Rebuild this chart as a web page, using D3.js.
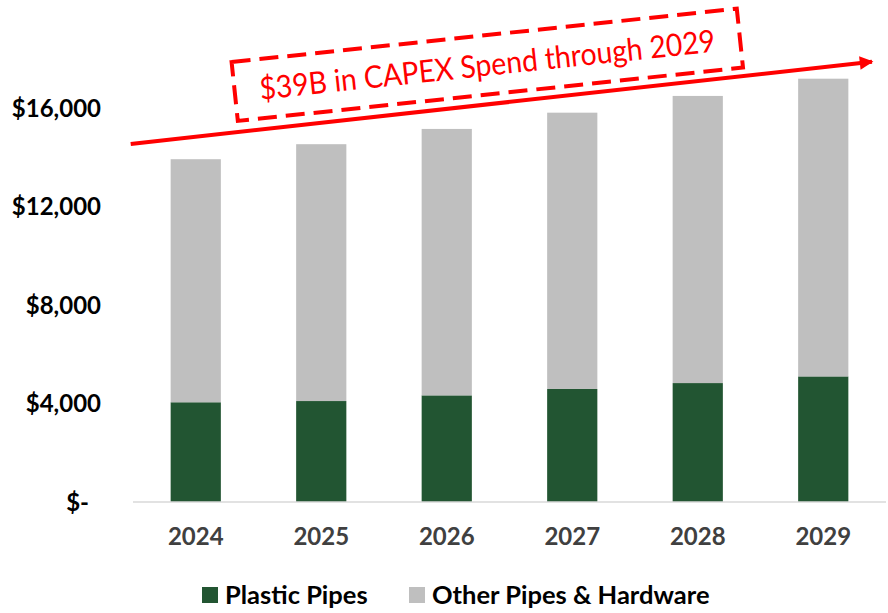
<!DOCTYPE html>
<html>
<head>
<meta charset="utf-8">
<script src="https://cdn.jsdelivr.net/npm/d3@7"></script>
<style>
  html, body { margin: 0; padding: 0; background: #fff; }
  svg { display: block; font-family: Lato, "Open Sans", sans-serif; }
</style>
</head>
<body>
<svg id="chart" width="888" height="613"></svg>
<script>
// Forecast CAPEX by year, USD millions
const years = ["2024", "2025", "2026", "2027", "2028", "2029"];
const plasticPipes = [4050, 4100, 4330, 4590, 4830, 5100];
const otherPipesHardware = [9870, 10430, 10820, 11220, 11660, 12090];
const yTicks = [0, 4000, 8000, 12000, 16000];
const seriesNames = ["Plastic Pipes", "Other Pipes & Hardware"];
const seriesColors = ["#225532", "#bfbfbf"];
const calloutText = "$39B in CAPEX Spend through 2029";
// trend arrow drawn from the left plot edge to near the right edge, in value terms
const trendStartValue = 14540;
const trendEndValue = 17880;

const svg = d3.select("#chart");

const x = d3.scaleBand()
  .domain(years)
  .range([133, 886])
  .paddingInner(0.6)
  .paddingOuter(0.3);

const y = d3.scaleLinear()
  .domain([0, 20000])
  .range([502, 9.5]);

const rows = years.map((yr, i) => ({
  year: yr,
  "Plastic Pipes": plasticPipes[i],
  "Other Pipes & Hardware": otherPipesHardware[i]
}));

const stacked = d3.stack().keys(seriesNames)(rows);

// stacked bars
svg.append("g")
  .selectAll("g")
  .data(stacked)
  .join("g")
  .attr("fill", (d, i) => seriesColors[i])
  .selectAll("rect")
  .data(d => d)
  .join("rect")
  .attr("x", d => x(d.data.year))
  .attr("width", x.bandwidth())
  .attr("y", d => y(d[1]))
  .attr("height", d => y(d[0]) - y(d[1]));

// category axis baseline
svg.append("line")
  .attr("x1", x.range()[0])
  .attr("x2", x.range()[1])
  .attr("y1", y(0))
  .attr("y2", y(0))
  .attr("stroke", "#d9d9d9")
  .attr("stroke-width", 1.5);

// y axis labels (accounting style)
const fmt = d3.format(",");
svg.append("g")
  .selectAll("text")
  .data(yTicks)
  .join("text")
  .attr("x", d => d === 0 ? 89 : 101)
  .attr("y", d => y(d))
  .attr("dy", "0.36em")
  .attr("text-anchor", "end")
  .attr("font-size", 24)
  .attr("font-weight", 700)
  .attr("fill", "#000")
  .text(d => d === 0 ? "$-" : "$" + fmt(d));

// x axis labels
svg.append("g")
  .selectAll("text")
  .data(years)
  .join("text")
  .attr("x", d => x(d) + x.bandwidth() / 2)
  .attr("y", 536)
  .attr("dy", "0.36em")
  .attr("text-anchor", "middle")
  .attr("font-size", 24)
  .attr("font-weight", 700)
  .attr("fill", "#404040")
  .text(d => d);

// legend
const legendItems = [
  { name: seriesNames[0], color: seriesColors[0], x: 202 },
  { name: seriesNames[1], color: seriesColors[1], x: 409 }
];
const lg = svg.append("g")
  .selectAll("g")
  .data(legendItems)
  .join("g")
  .attr("transform", d => `translate(${d.x},587)`);
lg.append("rect")
  .attr("width", 16)
  .attr("height", 16)
  .attr("fill", d => d.color);
lg.append("text")
  .attr("x", 23)
  .attr("y", 8)
  .attr("dy", "0.36em")
  .attr("font-size", 25.5)
  .attr("font-weight", 700)
  .attr("fill", "#000")
  .text(d => d.name);

// trend arrow
const defs = svg.append("defs");
defs.append("marker")
  .attr("id", "arrowHead")
  .attr("viewBox", "0 0 10 10")
  .attr("refX", 9)
  .attr("refY", 5)
  .attr("markerWidth", 4.2)
  .attr("markerHeight", 3.4)
  .attr("orient", "auto")
  .attr("markerUnits", "strokeWidth")
  .append("path")
  .attr("d", "M0,0 L10,5 L0,10 z")
  .attr("fill", "#ff0000");

svg.append("line")
  .attr("x1", 130.7)
  .attr("y1", y(trendStartValue))
  .attr("x2", 872)
  .attr("y2", y(trendEndValue))
  .attr("stroke", "#ff0000")
  .attr("stroke-width", 4)
  .attr("marker-end", "url(#arrowHead)");

// dashed callout box with rotated text
const callout = svg.append("g")
  .attr("transform", "translate(487.3,64.8) rotate(-6.03)");
callout.append("rect")
  .attr("x", -254)
  .attr("y", -29.6)
  .attr("width", 508)
  .attr("height", 59.2)
  .attr("fill", "none")
  .attr("stroke", "#ff0000")
  .attr("stroke-width", 4)
  .attr("stroke-dasharray", "19,9");
callout.append("text")
  .attr("x", 0)
  .attr("y", 0)
  .attr("dy", "0.35em")
  .attr("text-anchor", "middle")
  .attr("font-size", 31)
  .attr("fill", "#ff0000")
  .attr("textLength", 458)
  .attr("lengthAdjust", "spacingAndGlyphs")
  .text(calloutText);
</script>
</body>
</html>
